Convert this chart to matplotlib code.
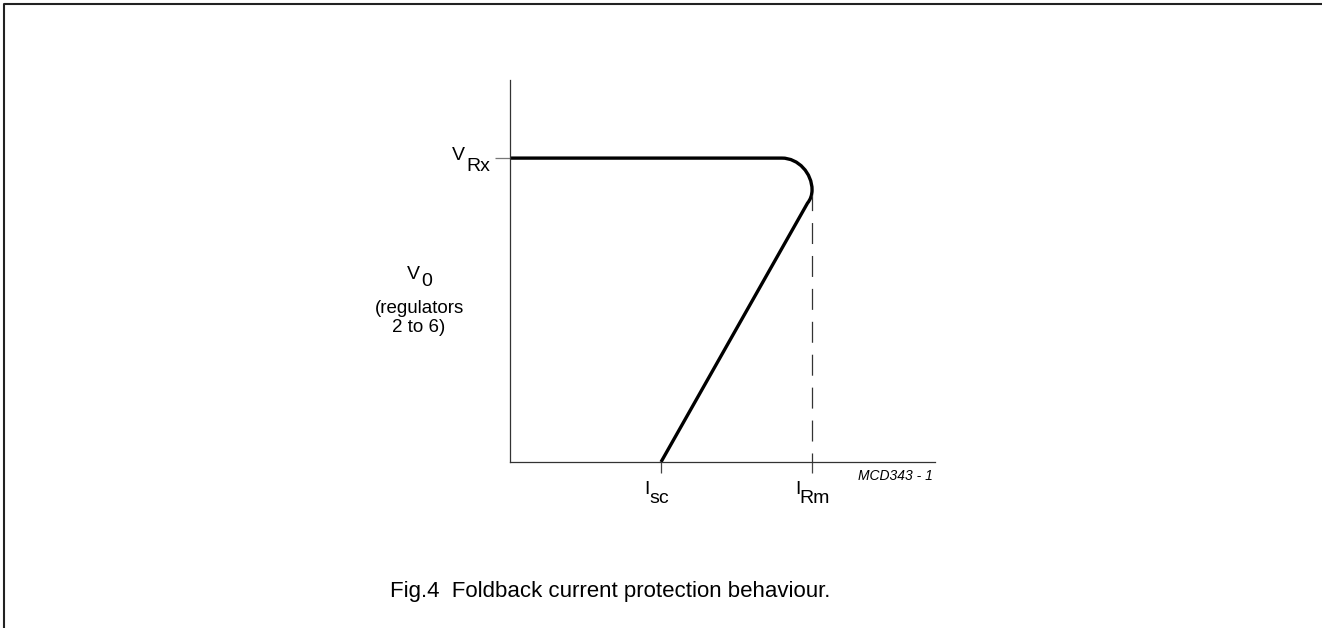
import matplotlib
matplotlib.use("Agg")
import matplotlib.pyplot as plt
from matplotlib.path import Path
from matplotlib.patches import PathPatch
from matplotlib.lines import Line2D

plt.rcParams['font.family'] = ['Liberation Sans', 'DejaVu Sans']
plt.rcParams['lines.scale_dashes'] = False

# foldback characteristic (normalised: I_Rm = 1, V_Rx = 1)
i_sc = 0.5
i_rm = 1.0
v_rx = 1.0
v_knee = 0.878          # where the dashed I_Rm line meets the curve
curve_x = [0.0, 0.90, 0.955, 1.0, 1.0, 1.0, 0.985, i_sc]
curve_y = [v_rx, v_rx, v_rx, 0.95, 0.895, 0.87, 0.852, 0.0]
curve_codes = [Path.MOVETO, Path.LINETO,
               Path.CURVE4, Path.CURVE4, Path.CURVE4,
               Path.CURVE3, Path.CURVE3,
               Path.LINETO]
x_max = 1.407
y_max = 1.257

W, H = 1322, 628
fig = plt.figure(figsize=(W / 100, H / 100), dpi=100)
ax = fig.add_axes([510 / W, 166 / H, 425 / W, 382 / H])
ax.set_xlim(0, x_max)
ax.set_ylim(0, y_max)

for side in ('top', 'right'):
    ax.spines[side].set_visible(False)
for side in ('left', 'bottom'):
    ax.spines[side].set_color('#333333')
    ax.spines[side].set_linewidth(0.9)

ax.set_xticks([i_sc, i_rm])
ax.set_yticks([v_rx])
ax.set_xticklabels([])
ax.set_yticklabels([])
ax.tick_params(axis='x', direction='out', length=8, width=0.9, color='#444444')
ax.tick_params(axis='y', direction='out', length=11, width=0.9, color='#777777')

path = Path(list(zip(curve_x, curve_y)), curve_codes)
ax.add_patch(PathPatch(path, fill=False, lw=2.4, ec='black',
                       joinstyle='round', capstyle='butt'))

ax.plot([i_rm, i_rm], [0, v_knee], color='#333333', lw=0.9,
        linestyle=(8.6, (15.1, 8.6)))


def label(s, xy, dx, dy, size=14, ha='left', coords='data', **kw):
    # dx, dy in pixels, dy positive downwards
    ax.annotate(s, xy=xy, xycoords=coords, xytext=(dx * 0.72, -dy * 0.72),
                textcoords='offset points', ha=ha, va='baseline',
                fontsize=size, annotation_clip=False, **kw)


# tick labels with same-size subscripts
label('V', (0, v_rx), -45, 2, ha='right')
label('Rx', (0, v_rx), -44, 13)
label('I', (i_sc, 0), -17, 32)
label('sc', (i_sc, 0), -12, 41)
label('I', (i_rm, 0), -17, 32)
label('Rm', (i_rm, 0), -12.5, 41)

# y axis caption
label('V', (0, 0), -90, -183, ha='right', coords='axes fraction')
label('0', (0, 0), -89, -176, coords='axes fraction')
label('(regulators', (0, 0), -90.5, -149, size=13.5, ha='center',
      coords='axes fraction')
label('2 to 6)', (0, 0), -91, -130, size=13.5, ha='center',
      coords='axes fraction')

label('MCD343 - 1', (1, 0), -2, 18, size=10, ha='right',
      coords='axes fraction', style='italic')

fig.text(610 / W, 1 - 597 / H, 'Fig.4  Foldback current protection behaviour.',
         ha='center', va='baseline', fontsize=16)

# frame (top and left edges only)
fig.add_artist(Line2D([3.5 / W, 3.5 / W, 1.0], [0.0, 1 - 3.5 / H, 1 - 3.5 / H],
                      transform=fig.transFigure, color='#222222', lw=1.5))

fig.savefig('out.png', dpi=100)
